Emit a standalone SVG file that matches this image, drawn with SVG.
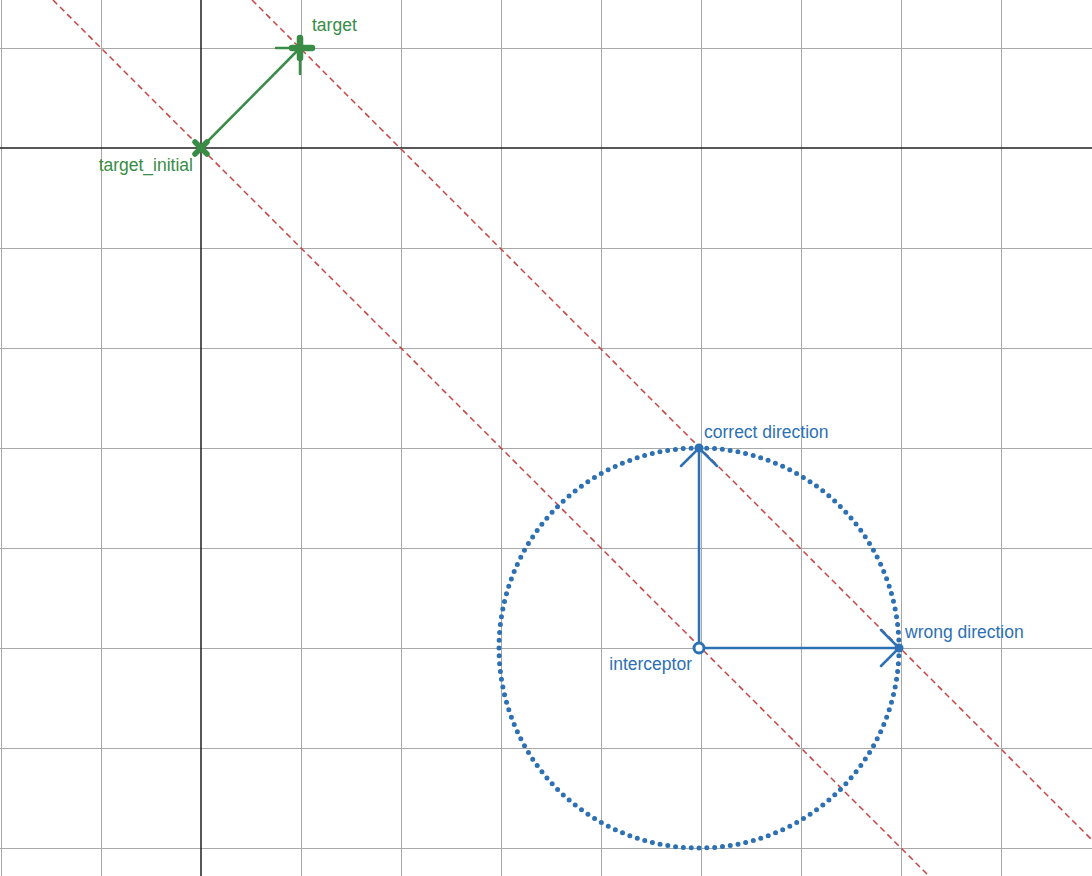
<svg xmlns="http://www.w3.org/2000/svg" width="1092" height="876" viewBox="0 0 1092 876">
<style>
.grid{stroke:#a8a8a8;stroke-width:1}
.axis{stroke:#222;stroke-width:1.5}
.red{stroke:#c74440;stroke-width:1.5;stroke-dasharray:6 4;fill:none}
.g{stroke:#388c46;fill:none;stroke-linecap:round}
.b{stroke:#2d70b3;fill:none;stroke-linecap:round}
.lg{font-family:"Liberation Sans",Arial,sans-serif;font-size:17.5px;fill:#388c46}
.lb{font-family:"Liberation Sans",Arial,sans-serif;font-size:17.5px;fill:#2d70b3}
</style>
<rect width="1092" height="876" fill="#fff"/>
<g id="grid">
<path class="grid" d="M1.5 0V876M101.5 0V876M301.5 0V876M401.5 0V876M501.5 0V876M601.5 0V876M701.5 0V876M801.5 0V876M901.5 0V876M1001.5 0V876"/>
<path class="grid" d="M0 48.5H1092M0 248.5H1092M0 348.5H1092M0 448.5H1092M0 548.5H1092M0 648.5H1092M0 748.5H1092M0 848.5H1092"/>
<path class="axis" d="M201 0V876M0 148H1092"/>
</g>
<g id="connectors">
<line class="red" x1="53" y1="0" x2="929" y2="876"/>
<line class="red" x1="252" y1="0" x2="1092" y2="840"/>
<line class="g" x1="201" y1="148" x2="300" y2="48" stroke-width="2.5"/>
<path class="b" stroke-width="2.5" d="M699 648V448M681 466L699 448L717 466"/>
<path class="b" stroke-width="2.5" d="M699 648H899M881 630L899 648L881 666"/>
</g>
<g id="circle">
<circle cx="699" cy="648" r="200" fill="none" stroke="#2d70b3" stroke-width="5" stroke-linecap="round" stroke-dasharray="0 7.85"/>
</g>
<g id="target_initial">
<path class="g" stroke-width="5.5" d="M195 142L207 154M207 142L195 154"/>
<text class="lg" x="193" y="171" text-anchor="end">target_initial</text>
</g>
<g id="target">
<path class="g" stroke-width="2.5" d="M276 48H300M300 48V74"/>
<path class="g" stroke-width="6.5" d="M292 48H312M300 38V58"/>
<text class="lg" x="312" y="31">target</text>
</g>
<g id="interceptor">
<circle cx="699" cy="648" r="5" fill="#fff" stroke="#2d70b3" stroke-width="3"/>
<text class="lb" x="692" y="670" text-anchor="end">interceptor</text>
</g>
<g id="correct">
<circle cx="699" cy="448" r="4.5" fill="#2d70b3"/>
<text class="lb" x="704" y="438">correct direction</text>
</g>
<g id="wrong">
<circle cx="899" cy="648" r="4.5" fill="#2d70b3"/>
<text class="lb" x="905" y="638">wrong direction</text>
</g>
</svg>
